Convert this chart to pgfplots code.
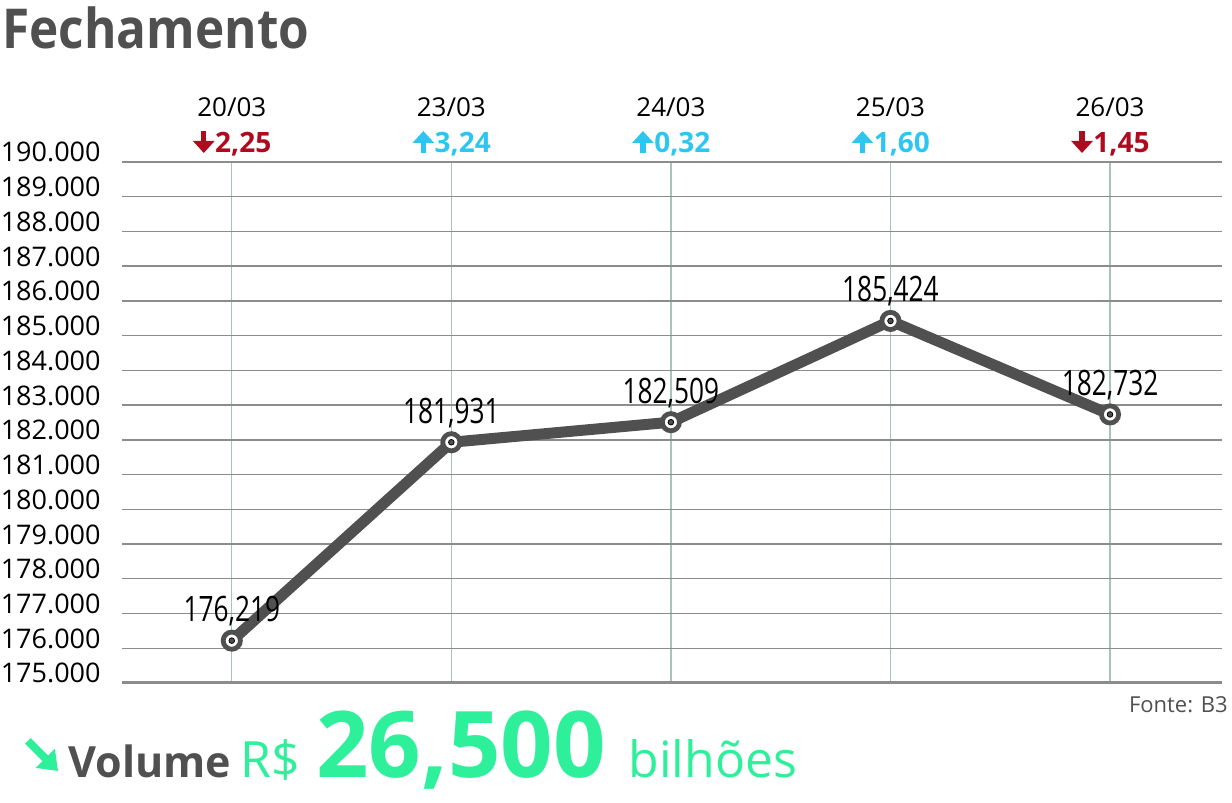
\documentclass[border=0pt]{standalone}
\usepackage{pgfplots}
\pgfplotsset{compat=1.18}
\usepackage{pgfplotstable}
\usepackage{fontspec}
\usetikzlibrary{arrows.meta}
\setmainfont{Open Sans}
\newfontfamily\cond[FakeStretch=0.75]{Open Sans}
\newfontfamily\titlef[FakeStretch=0.9]{Open Sans}

\definecolor{linegray}{HTML}{505050}
\definecolor{gridgray}{HTML}{8C8C8C}
\definecolor{vgrid}{HTML}{A9C2BE}
\definecolor{downred}{HTML}{B00A1E}
\definecolor{upcyan}{HTML}{2CC6F0}
\definecolor{mint}{HTML}{2EF09A}

% daily change above each column: arrow + number
\newcommand{\chgdn}[2]{%
  \draw[downred, line width=2.6pt, -{Triangle[length=6pt, width=10.5pt]}]
    ([xshift=-14pt, yshift=15.5pt]axis cs:#1,190000) -- ([xshift=-14pt, yshift=4.5pt]axis cs:#1,190000);
  \node[anchor=base west, inner sep=0, text=downred, font=\bfseries\fontsize{14}{16}\selectfont]
    at ([xshift=-8.5pt, yshift=4.5pt]axis cs:#1,190000) {#2};}
\newcommand{\chgup}[2]{%
  \draw[upcyan, line width=2.6pt, -{Triangle[length=6pt, width=10.5pt]}]
    ([xshift=-14pt, yshift=4.5pt]axis cs:#1,190000) -- ([xshift=-14pt, yshift=15.5pt]axis cs:#1,190000);
  \node[anchor=base west, inner sep=0, text=upcyan, font=\bfseries\fontsize{14}{16}\selectfont]
    at ([xshift=-8.5pt, yshift=4.5pt]axis cs:#1,190000) {#2};}

\pgfplotstableread{
x y label
0 176219 176,219
1 181931 181,931
2 182509 182,509
3 185424 185,424
4 182732 182,732
}\fechamento

\begin{document}
\begin{tikzpicture}
\path[use as bounding box] (0,0) rectangle (616pt,401.5pt);

% title
\node[anchor=base west, inner sep=0, text=linegray] at (1pt,377pt)
  {\titlef\bfseries\fontsize{27.5}{30}\selectfont Fechamento};

\begin{axis}[
    at={(61pt,60pt)}, anchor=south west,
    scale only axis, width=550pt, height=260.5pt,
    xmin=-0.5, xmax=4.51, ymin=175000, ymax=190000,
    xtick={0,1,2,3,4}, xticklabels={},
    ytick={175000,176000,177000,178000,179000,180000,181000,182000,
           183000,184000,185000,186000,187000,188000,189000,190000},
    yticklabels={175.000,176.000,177.000,178.000,179.000,180.000,181.000,182.000,
                 183.000,184.000,185.000,186.000,187.000,188.000,189.000,190.000},
    scaled y ticks=false,
    yticklabel style={anchor=base east, inner sep=0, xshift=-10.5pt,
                      font=\fontsize{13.5}{16}\selectfont},
    major tick length=0pt,
    xmajorgrids, ymajorgrids,
    x grid style={vgrid, line width=0.7pt},
    y grid style={gridgray, line width=0.7pt},
    axis x line*=bottom, axis y line*=left,
    x axis line style={gridgray, line width=1.5pt, -},
    y axis line style={draw=none},
    clip=false,
]
\addplot[linegray, line width=5.5pt, line join=round] table[x=x, y=y] {\fechamento};
\addplot[only marks, mark=*, mark size=4.3pt,
    mark options={fill=white, draw=linegray, line width=2.4pt},
    nodes near coords, point meta=explicit symbolic,
    nodes near coords style={anchor=base, inner sep=0, yshift=9.5pt,
        font=\cond\fontsize{17.5}{20}\selectfont, text=black}]
    table[x=x, y=y, meta=label] {\fechamento};
\addplot[only marks, mark=*, mark size=1.4pt,
    mark options={fill=linegray, draw=none}] table[x=x, y=y] {\fechamento};

% dates
\node[anchor=base, inner sep=0, yshift=22.5pt, font=\fontsize{13}{15}\selectfont]
  at (axis cs:0,190000) {20/03};
\node[anchor=base, inner sep=0, yshift=22.5pt, font=\fontsize{13}{15}\selectfont]
  at (axis cs:1,190000) {23/03};
\node[anchor=base, inner sep=0, yshift=22.5pt, font=\fontsize{13}{15}\selectfont]
  at (axis cs:2,190000) {24/03};
\node[anchor=base, inner sep=0, yshift=22.5pt, font=\fontsize{13}{15}\selectfont]
  at (axis cs:3,190000) {25/03};
\node[anchor=base, inner sep=0, yshift=22.5pt, font=\fontsize{13}{15}\selectfont]
  at (axis cs:4,190000) {26/03};
% daily change
\chgdn{0}{2,25}
\chgup{1}{3,24}
\chgup{2}{0,32}
\chgup{3}{1,60}
\chgdn{4}{1,45}
\end{axis}

% source
\node[anchor=base east, inner sep=0, text=linegray,
  font=\fontsize{11}{13}\selectfont] at (614pt,45pt) {Fonte: B3};

% volume line
\draw[mint, line width=4pt, -{Triangle[length=9pt, width=13pt]}]
  (14pt,31pt) -- (29pt,16pt);
\node[anchor=base west, inner sep=0, text=linegray,
  font=\bfseries\fontsize{21.5}{24}\selectfont] at (34pt,12.5pt) {Volume};
\node[anchor=base west, inner sep=0, text=mint,
  font=\fontsize{25}{28}\selectfont] at (120pt,12.5pt) {R\$};
\node[anchor=base west, inner sep=0, text=mint,
  font=\bfseries\fontsize{46}{50}\selectfont] at (158pt,12.5pt) {26,500};
\node[anchor=base west, inner sep=0, text=mint,
  font=\fontsize{25}{28}\selectfont] at (314pt,12.5pt) {bilhões};
\end{tikzpicture}
\end{document}
